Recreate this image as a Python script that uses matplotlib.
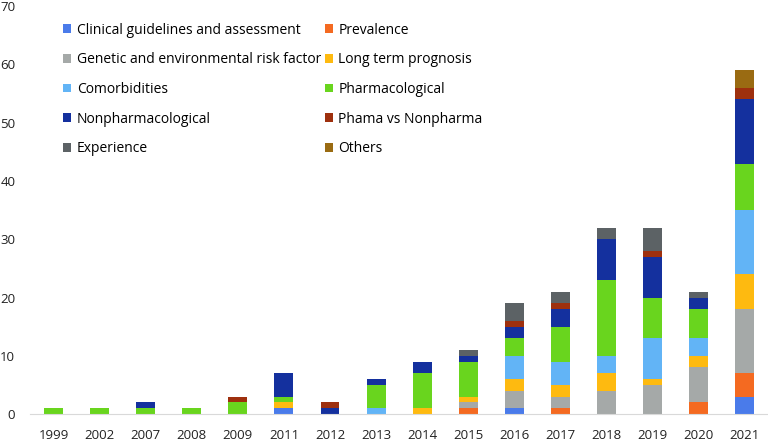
import numpy as np
import matplotlib
matplotlib.use("Agg")
import matplotlib.pyplot as plt

plt.rcParams['font.family'] = ['Open Sans', 'DejaVu Sans']

years = ['1999', '2002', '2007', '2008', '2009', '2011', '2012', '2013',
         '2014', '2015', '2016', '2017', '2018', '2019', '2020', '2021']

categories = ['Clinical guidelines and assessment', 'Prevalence',
              'Genetic and environmental risk factor', 'Long term prognosis',
              'Comorbidities', 'Pharmacological', 'Nonpharmacological',
              'Phama vs Nonpharma', 'Experience', 'Others']

clinical    = [0, 0, 0, 0, 0, 1, 0, 0, 0, 0, 1, 0, 0, 0, 0, 3]
prevalence  = [0, 0, 0, 0, 0, 0, 0, 0, 0, 1, 0, 1, 0, 0, 2, 4]
genetic     = [0, 0, 0, 0, 0, 0, 0, 0, 0, 1, 3, 2, 4, 5, 6, 11]
longterm    = [0, 0, 0, 0, 0, 1, 0, 0, 1, 1, 2, 2, 3, 1, 2, 6]
comorb      = [0, 0, 0, 0, 0, 0, 0, 1, 0, 0, 4, 4, 3, 7, 3, 11]
pharma      = [1, 1, 1, 1, 2, 1, 0, 4, 6, 6, 3, 6, 13, 7, 5, 8]
nonpharma   = [0, 0, 1, 0, 0, 4, 1, 1, 2, 1, 2, 3, 7, 7, 2, 11]
pha_vs_non  = [0, 0, 0, 0, 1, 0, 1, 0, 0, 0, 1, 1, 0, 1, 0, 2]
experience  = [0, 0, 0, 0, 0, 0, 0, 0, 0, 1, 3, 2, 2, 4, 1, 0]
others      = [0, 0, 0, 0, 0, 0, 0, 0, 0, 0, 0, 0, 0, 0, 0, 3]

series = [clinical, prevalence, genetic, longterm, comorb,
          pharma, nonpharma, pha_vs_non, experience, others]
colors = ['#4A7BEA', '#F46A21', '#A5A9A8', '#FEBA10', '#62B4F6',
          '#69D51E', '#14309E', '#9E300E', '#5C6265', '#9A6B12']

fig = plt.figure(figsize=(7.68, 4.41), dpi=100)
ax = fig.add_axes([0.0397, 0.061, 0.96, 0.925])

x = np.arange(len(years))
bottom = np.zeros(len(years))
handles = []
for name, vals, col in zip(categories, series, colors):
    vals = np.array(vals, dtype=float)
    b = ax.bar(x, vals, 0.41, bottom=bottom, color=col, label=name)
    handles.append(b)
    bottom += vals

ax.set_xlim(-0.5, 15.5)
ax.set_ylim(0, 70)
ax.set_yticks(range(0, 71, 10))
ax.set_xticks(x)
ax.set_xticklabels(years)
ax.tick_params(axis='both', length=0, labelsize=9.5, colors='#222222')
ax.tick_params(axis='y', pad=11)
ax.tick_params(axis='x', pad=11)
for s in ['top', 'right', 'left']:
    ax.spines[s].set_visible(False)
ax.spines['bottom'].set_color('#D9D9D9')

# legend is filled row by row in the reference
order = [0, 2, 4, 6, 8, 1, 3, 5, 7, 9]
ax.legend([handles[i] for i in order], [categories[i] for i in order],
          ncol=2, loc='upper left', bbox_to_anchor=(0.027, 0.99),
          frameon=False, fontsize=10, labelspacing=1.05,
          columnspacing=0.25, handlelength=0.6, handleheight=0.6,
          handletextpad=0.4)

fig.savefig('out.png', dpi=100)
